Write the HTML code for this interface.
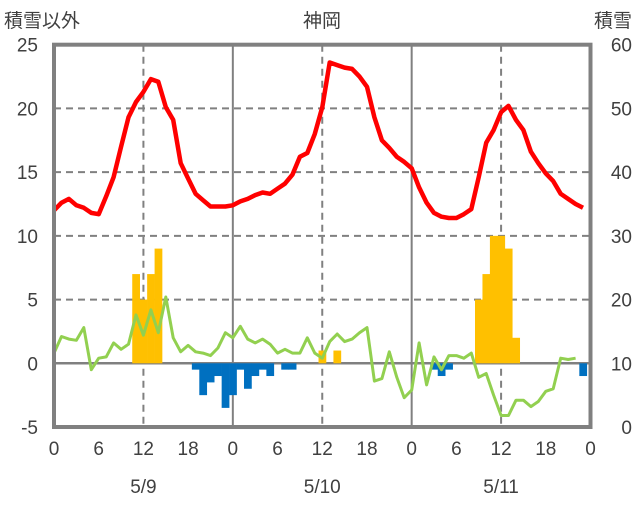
<!DOCTYPE html>
<html><head><meta charset="utf-8"><style>
body{margin:0;background:#fff;}
svg text{font-family:"Liberation Sans","Noto Sans CJK JP",sans-serif;fill:#404040;}
</style></head><body>
<svg id="chart" width="636" height="501" xmlns="http://www.w3.org/2000/svg">
<g id="grid"></g>
<g id="bars"></g>
<g id="lines"></g>
<rect x="54" y="44.7" width="536.5" height="382.3" fill="none" stroke="#808080" stroke-width="4"/>
<g id="axes"></g>
<text x="4" y="27" font-size="19">積雪以外</text>
<text x="322" y="27" font-size="19" text-anchor="middle">神岡</text>
<text x="632" y="27" font-size="19" text-anchor="end">積雪</text>
</svg>
<script>
const hours = Array.from({length:72},(_,i)=>i);
const temp = [12.0,12.6,12.9,12.4,12.2,11.8,11.7,13.1,14.6,17.0,19.3,20.5,21.3,22.3,22.1,20.1,19.1,15.7,14.5,13.3,12.8,12.3,12.3,12.3,12.4,12.7,12.9,13.2,13.4,13.3,13.7,14.1,14.8,16.2,16.5,18.0,20.1,23.6,23.4,23.2,23.1,22.5,21.7,19.3,17.5,16.9,16.2,15.8,15.3,13.8,12.6,11.8,11.5,11.4,11.4,11.7,12.1,14.6,17.3,18.3,19.7,20.2,19.1,18.3,16.6,15.7,14.9,14.3,13.3,12.9,12.5,12.2];
const wind = [0.8,2.1,1.9,1.8,2.8,-0.5,0.4,0.5,1.6,1.1,1.5,3.8,2.2,4.2,2.4,5.2,2.0,0.9,1.4,0.9,0.8,0.6,1.2,2.4,2.0,2.9,1.9,1.6,1.9,1.5,0.8,1.1,0.8,0.8,2.0,0.8,0.4,1.7,2.3,1.7,1.9,2.4,2.8,-1.4,-1.2,0.9,-1.1,-2.7,-2.1,1.6,-1.7,0.5,-0.5,0.6,0.6,0.4,0.8,-1.1,-0.8,-2.5,-4.1,-4.1,-2.9,-2.9,-3.4,-3.0,-2.2,-2.0,0.4,0.3,0.4,null];
const posBars = [[11,7],[12,5],[13,7],[14,9],[36,1],[38,1],[57,5],[58,7],[59,10],[60,10],[61,9],[62,2]];
const negBars = [[19,-0.5],[20,-2.5],[21,-1.5],[22,-1],[23,-3.5],[24,-2.5],[25,-0.5],[26,-2],[27,-1],[28,-0.5],[29,-1],[31,-0.5],[32,-0.5],[51,-0.5],[52,-1],[53,-0.5],[71,-1]];
const leftTicks = [25,20,15,10,5,0,-5];
const rightTicks = [60,50,40,30,20,10,0];
const xTickLabels = ["0","6","12","18","0","6","12","18","0","6","12","18","0"];
const dateLabels = ["5/9","5/10","5/11"];
const NS="http://www.w3.org/2000/svg";
const X0=54,X1=590.5,YT=44.7,YB=427;
const xs=h=>X0+(X1-X0)*h/72;
const yl=v=>YB-(v+5)/30*(YB-YT);
const yr=v=>YB-v/60*(YB-YT);
function mk(tag,attrs,parent){const e=document.createElementNS(NS,tag);for(const k in attrs)e.setAttribute(k,attrs[k]);parent.appendChild(e);return e;}
const grid=document.getElementById('grid'),bars=document.getElementById('bars'),lines=document.getElementById('lines'),axes=document.getElementById('axes');
[5,10,15,20].forEach(v=>{const l=mk('line',{x1:X0,x2:X1,y1:yl(v),y2:yl(v),stroke:'#808080','stroke-width':2,'stroke-dasharray':'7,5'},grid);

});
[12,36,60].forEach(h=>{const l=mk('line',{x1:xs(h),x2:xs(h),y1:YT,y2:YB,stroke:'#808080','stroke-width':2,'stroke-dasharray':'7,5'},grid);

});
[24,48].forEach(h=>{const l=mk('line',{x1:xs(h),x2:xs(h),y1:YT,y2:YB,stroke:'#808080','stroke-width':2},grid);

});
const bw=(X1-X0)/72;
posBars.forEach(([h,v])=>{const r=mk('rect',{x:xs(h)-bw/2,y:yl(v),width:bw+0.3,height:yl(0)-yl(v),fill:'#FFC000'},bars);

});
negBars.forEach(([h,v])=>{const r=mk('rect',{x:xs(h)-bw/2,y:yl(0),width:bw+0.3,height:yl(v)-yl(0),fill:'#0070C0'},bars);

});
const zl=mk('line',{x1:X0,x2:X1,y1:yl(0),y2:yl(0),stroke:'#808080','stroke-width':2.5},grid);


function pts(arr){return arr.map((v,i)=>v==null?null:xs(hours[i]).toFixed(1)+','+yl(v).toFixed(1)).filter(p=>p).join(' ');}
const g=mk('polyline',{points:pts(wind),fill:'none',stroke:'#92D050','stroke-width':3,'stroke-linejoin':'round'},lines);


const t=mk('polyline',{points:pts(temp),fill:'none',stroke:'#FF0000','stroke-width':4.5,'stroke-linejoin':'round'},lines);


leftTicks.forEach(v=>{const e=mk('text',{x:38,y:yl(v)+7,'font-size':19,'text-anchor':'end'},axes);e.textContent=v;

});
rightTicks.forEach(v=>{const e=mk('text',{x:632,y:yr(v)+7,'font-size':19,'text-anchor':'end'},axes);e.textContent=v;

});
xTickLabels.forEach((s,i)=>{const e=mk('text',{x:xs(i*6),y:455,'font-size':19,'text-anchor':'middle'},axes);e.textContent=s;

});
dateLabels.forEach((s,i)=>{const e=mk('text',{x:xs(12+24*i),y:493,'font-size':19,'text-anchor':'middle'},axes);e.textContent=s;

});
</script>
</body></html>
